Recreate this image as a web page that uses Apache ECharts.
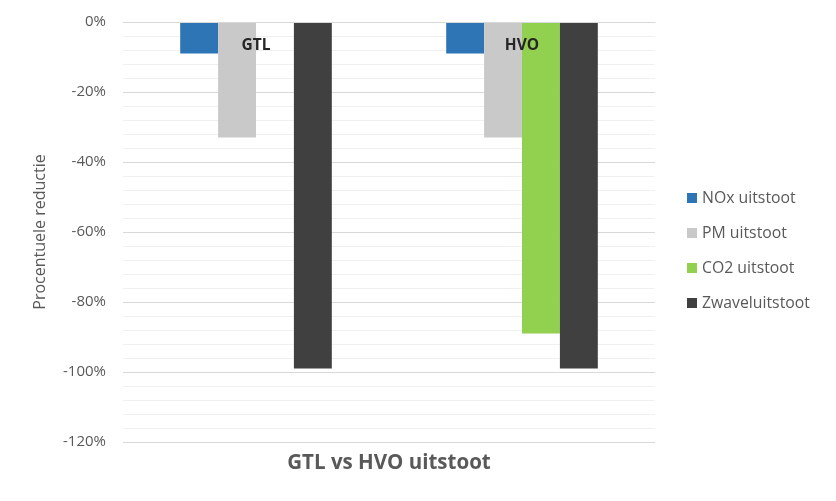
<!DOCTYPE html>
<html>
<head>
<meta charset="utf-8">
<script src="https://cdn.jsdelivr.net/npm/echarts@6/dist/echarts.min.js"></script>
<style>
  html, body { margin: 0; padding: 0; background: #fff; }
  #chart { width: 836px; height: 501px; }
</style>
</head>
<body>
<div id="chart"></div>
<script>
var categories = ['GTL', 'HVO'];
var noxValues = [-9, -9];
var pmValues = [-33, -33];
var co2Values = ['-', -89];
var zwavelValues = [-99, -99];
var seriesNames = ['NOx uitstoot', 'PM uitstoot', 'CO2 uitstoot', 'Zwaveluitstoot'];
var seriesColors = ['#2e75b6', '#c9c9c9', '#92d050', '#404040'];

var font = 'Open Sans';
var myChart = echarts.init(document.getElementById('chart'));
var option = {
  animation: false,
  grid: {
    top: 22,
    left: 123,
    right: 181,
    bottom: 59
  },
  legend: {
    orient: 'vertical',
    left: 682,
    top: 185,
    icon: 'rect',
    itemWidth: 10,
    itemHeight: 10,
    itemGap: 19,
    textStyle: {
      fontFamily: font,
      fontSize: 15.8,
      lineHeight: 15,
      color: '#595959'
    },
    data: seriesNames
  },
  xAxis: {
    type: 'category',
    data: categories,
    position: 'top',
    z: 10,
    axisLine: {
      lineStyle: { color: '#d9d9d9' }
    },
    axisTick: { show: false },
    axisLabel: {
      inside: true,
      margin: 16,
      fontFamily: font,
      fontSize: 15.5,
      fontWeight: 'bold',
      color: '#262626'
    }
  },
  yAxis: {
    type: 'value',
    min: -120,
    max: 0,
    interval: 20,
    name: 'Procentuele reductie',
    nameLocation: 'middle',
    nameGap: 75,
    nameTextStyle: {
      fontFamily: font,
      fontSize: 16,
      color: '#595959'
    },
    axisLine: { show: false },
    axisTick: { show: false },
    axisLabel: {
      margin: 17,
      fontFamily: font,
      fontSize: 15,
      color: '#595959',
      formatter: '{value}%'
    },
    splitLine: {
      lineStyle: { color: '#d9d9d9' }
    },
    minorTick: { show: false, splitNumber: 5 },
    minorSplitLine: {
      show: true,
      lineStyle: { color: '#f0f0f0' }
    }
  },
  graphic: [{
    type: 'text',
    x: 389,
    y: 463,
    style: {
      text: 'GTL vs HVO uitstoot',
      fontFamily: font,
      fontSize: 20.5,
      fontWeight: 'bold',
      fill: '#595959',
      textAlign: 'center',
      textVerticalAlign: 'middle'
    }
  }],
  series: [noxValues, pmValues, co2Values, zwavelValues].map(function (vals, i) {
    return {
      name: seriesNames[i],
      type: 'bar',
      data: vals,
      barGap: '0%',
      barCategoryGap: '43%',
      itemStyle: { color: seriesColors[i] }
    };
  })
};
myChart.setOption(option);
</script>
</body>
</html>
